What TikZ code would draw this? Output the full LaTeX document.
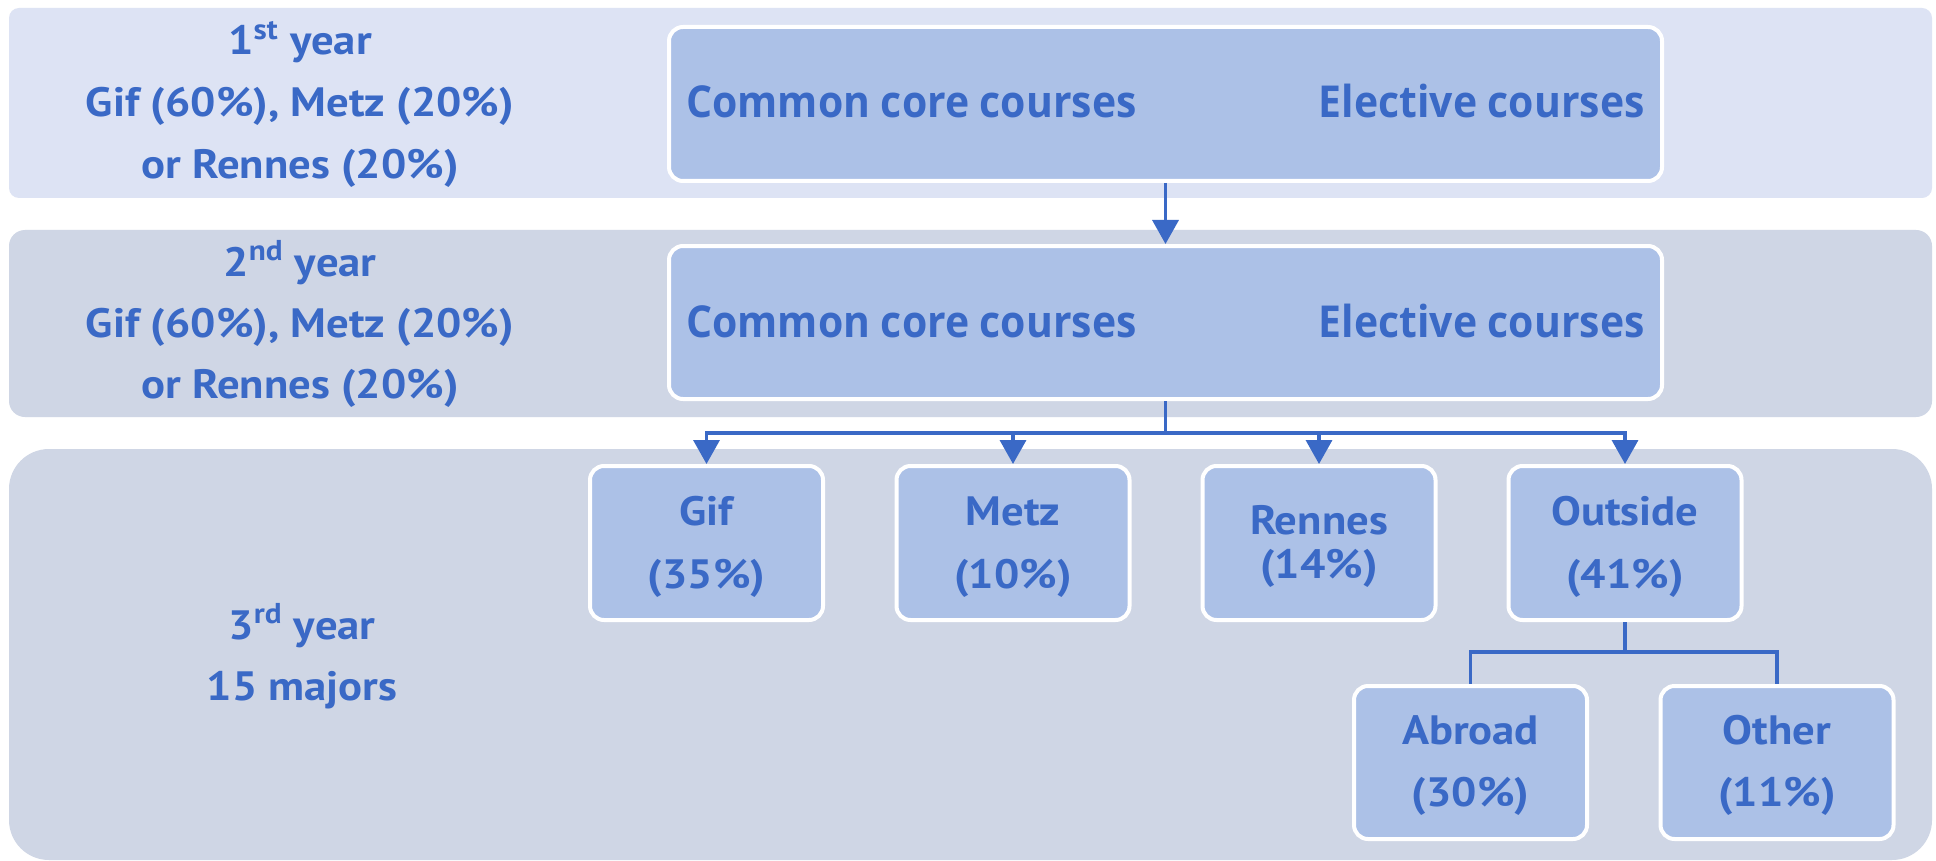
\documentclass[tikz,border=0pt]{standalone}
\usepackage{fontspec}
\newfontfamily\labfont{PT Sans}[FakeStretch=1.09]
\newfontfamily\boxfont{Open Sans}[FakeStretch=0.93]
\usetikzlibrary{arrows.meta}
\definecolor{bandA}{HTML}{DDE3F4}
\definecolor{bandB}{HTML}{CFD6E5}
\definecolor{boxfill}{HTML}{ACC1E7}
\definecolor{txt}{HTML}{3A69C6}
\begin{document}
\begin{tikzpicture}[x=0.5pt,y=-0.5pt,
  boxstyle/.style={draw=white, line width=2pt, fill=boxfill, rounded corners=7pt, inner sep=0pt, minimum height=77pt, minimum width=116.5pt},
  lab/.style={inner sep=0pt, anchor=base, text=txt, font=\labfont\bfseries\fontsize{20.5pt}{24pt}\selectfont},
  ctxt/.style={inner sep=0pt, text=txt, font=\boxfont\bfseries\fontsize{22pt}{26pt}\selectfont},
  conn/.style={draw=txt, line width=1.75pt},
  arr/.style={conn, -{Triangle[width=13pt,length=12pt]}}]
\useasboundingbox (0,0) rectangle (1936,861);
\fill[white] (0,0) rectangle (1936,861);
% bands
\fill[bandA, rounded corners=5pt] (9,8) rectangle (1932,198);
\fill[bandB, rounded corners=8pt] (9,230) rectangle (1932,417);
\fill[bandB, rounded corners=20pt] (9,449) rectangle (1932,860);
% year labels
\node[lab] (y1a) at (300,55) {1\textsuperscript{st} year};
\node[lab] (y1b) at (300,117) {Gif (60\%), Metz (20\%)};
\node[lab] (y1c) at (300,179) {or Rennes (20\%)};
\node[lab] (y2a) at (300,276) {2\textsuperscript{nd} year};
\node[lab] (y2b) at (300,337) {Gif (60\%), Metz (20\%)};
\node[lab] (y2c) at (300,398) {or Rennes (20\%)};
\node[lab] (y3a) at (302,639) {3\textsuperscript{rd} year};
\node[lab] (y3b) at (302,700) {15 majors};
% course boxes
\node[boxstyle, minimum width=496.5pt] (A) at (1165.5,104) {};
\node[boxstyle, minimum width=496.5pt, minimum height=76.5pt] (B) at (1165.5,322.5) {};
\node[ctxt, anchor=base west] (Acc) at (686,118) {Common core courses};
\node[ctxt, anchor=base east] (Aec) at (1645,118) {Elective courses};
\node[ctxt, anchor=base west] (Bcc) at (686,337) {Common core courses};
\node[ctxt, anchor=base east] (Bec) at (1645,337) {Elective courses};
% third year boxes
\node[boxstyle] (gif) at (706.5,543) {};
\node[boxstyle] (metz) at (1013,543) {};
\node[boxstyle] (ren) at (1319,543) {};
\node[boxstyle] (out) at (1625,543) {};
\node[boxstyle, minimum height=76.5pt] (abr) at (1470.5,762.5) {};
\node[boxstyle, minimum height=76.5pt] (oth) at (1777,762.5) {};
\node[lab] (gif1) at (706.5,525) {Gif};
\node[lab] (gif2) at (706.5,588) {(35\%)};
\node[lab] (metz1) at (1013,525) {Metz};
\node[lab] (metz2) at (1013,588) {(10\%)};
\node[lab] (ren1) at (1319,534) {Rennes};
\node[lab] (ren2) at (1319,578) {(14\%)};
\node[lab] (out1) at (1625,525) {Outside};
\node[lab] (out2) at (1625,588) {(41\%)};
\node[lab] (abr1) at (1470.5,744) {Abroad};
\node[lab] (abr2) at (1470.5,806) {(30\%)};
\node[lab] (oth1) at (1777,744) {Other};
\node[lab] (oth2) at (1777,806) {(11\%)};
% connectors
\draw[arr] (A.south) -- (B.north);
\coordinate (bj) at (1165.5,433);
\coordinate (oj) at (1625,652);
\draw[conn] (B.south) -- (bj);
\draw[arr] (bj) -| (gif.north);
\draw[arr] (bj) -| (metz.north);
\draw[arr] (bj) -| (ren.north);
\draw[arr] (bj) -| (out.north);
\draw[conn] (out.south) -- (oj);
\draw[conn] (oj) -| (abr.north);
\draw[conn] (oj) -| (oth.north);
\end{tikzpicture}
\end{document}
